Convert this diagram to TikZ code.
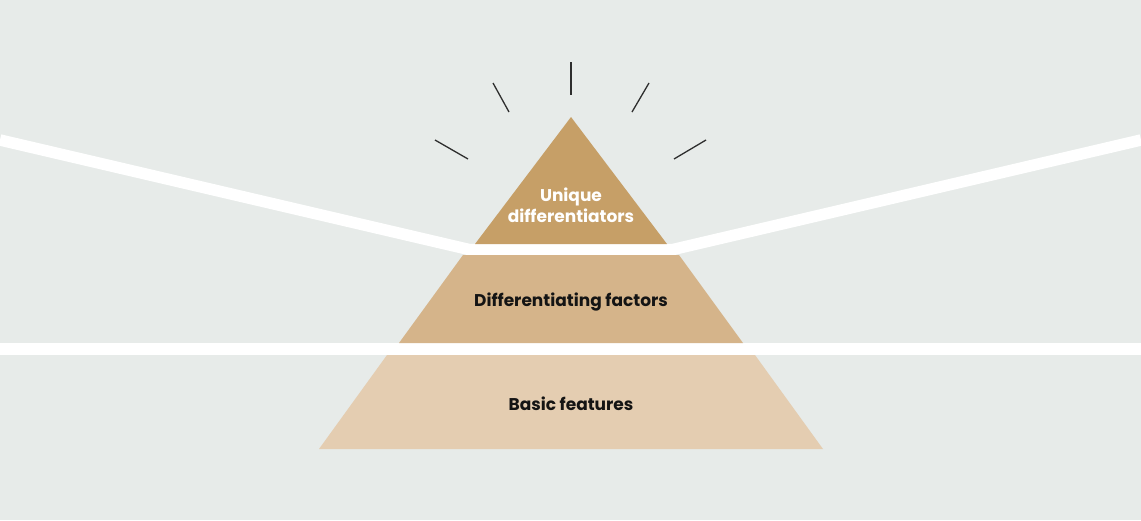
\documentclass[tikz,border=0pt]{standalone}
\usepackage{fontspec}
\setmainfont{Poppins}
\usepackage{xcolor}
\usepackage{tikz}
\definecolor{bgcol}{HTML}{E7EBE9}
\definecolor{topcol}{HTML}{C69F67}
\definecolor{midcol}{HTML}{D5B48A}
\definecolor{basecol}{HTML}{E4CDB1}
\definecolor{raycol}{HTML}{2E2E2E}
\tikzstyle{tier} = [draw=none]
\tikzstyle{tiertext} = [font=\bfseries\fontsize{17}{21}\selectfont, text=black!92, align=center, inner sep=0pt]
\tikzstyle{gap} = [draw=white, line width=11.5pt, line join=miter]
\tikzstyle{ray} = [draw=raycol, line width=1.3pt]

\begin{document}
\begin{tikzpicture}[x=1pt, y=-1pt]
	
	\useasboundingbox (0,0) rectangle (1141,520);
	\fill [bgcol] (0,0) rectangle (1141,520);
	
	% white gaps
	\draw [gap] (0,140) -- (469,249.5) -- (673,249.5) -- (1141,140);
	\draw [gap] (0,349) -- (1141,349);
	
	% pyramid tiers
	\fill [tier, topcol] (571,117) -- (667,244) -- (475,244) -- cycle;
	\fill [tier, midcol] (463,255) -- (679,255) -- (743,343) -- (399,343) -- cycle;
	\fill [tier, basecol] (387,355) -- (755,355) -- (823,449) -- (319,449) -- cycle;
	
	\node (t1) [tiertext, text=white] at (571,205) {Unique\\differentiators};
	\node (t2) [tiertext] at (571,302.5) {Differentiating factors};
	\node (t3) [tiertext] at (571,403.5) {Basic features};
	
	% rays
	\draw [ray] (571,62) -- (571,95);
	\draw [ray] (493,83) -- (509,112);
	\draw [ray] (649,83) -- (632,112);
	\draw [ray] (435,140) -- (468,159);
	\draw [ray] (706,140) -- (674,159);
	
\end{tikzpicture}
\end{document}
